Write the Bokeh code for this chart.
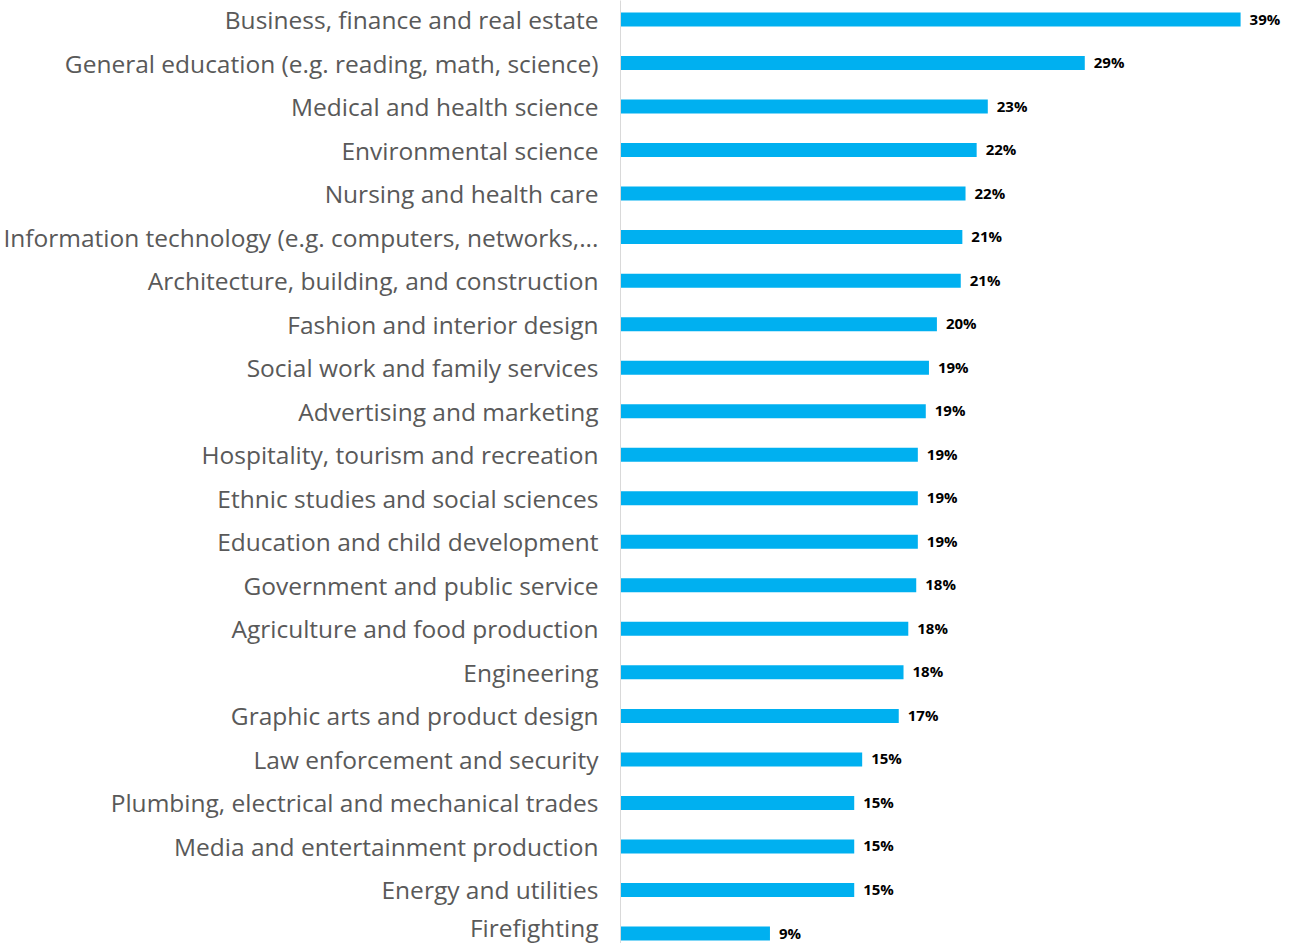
from bokeh.plotting import figure
from bokeh.models import Range1d, ColumnDataSource, FixedTicker, LabelSet
from bokeh.core.properties import value
from bokeh.embed import file_html
from bokeh.resources import INLINE

categories = [
    "Business, finance and real estate",
    "General education (e.g. reading, math, science)",
    "Medical and health science",
    "Environmental science",
    "Nursing and health care",
    "Information technology (e.g. computers, networks,...",
    "Architecture, building, and construction",
    "Fashion and interior design",
    "Social work and family services",
    "Advertising and marketing",
    "Hospitality, tourism and recreation",
    "Ethnic studies and social sciences",
    "Education and child development",
    "Government and public service",
    "Agriculture and food production",
    "Engineering",
    "Graphic arts and product design",
    "Law enforcement and security",
    "Plumbing, electrical and mechanical trades",
    "Media and entertainment production",
    "Energy and utilities",
    "Firefighting",
]
values = [39.0, 29.2, 23.1, 22.4, 21.7, 21.5, 21.4, 19.9, 19.4, 19.2, 18.7, 18.7,
          18.7, 18.6, 18.1, 17.8, 17.5, 15.2, 14.7, 14.7, 14.7, 9.4]
value_labels = ["39%", "29%", "23%", "22%", "22%", "21%", "21%", "20%", "19%", "19%",
                "19%", "19%", "19%", "18%", "18%", "18%", "17%", "15%", "15%", "15%",
                "15%", "9%"]

ypos = list(range(len(categories)))
src = ColumnDataSource(dict(y=ypos, v=values, lab=value_labels))

W, H = 1293, 943
LEFT = 620
PXU = 15.9
ROW = (933 - 19) / 21.0
p = figure(width=W, height=H, output_backend="svg", toolbar_location=None,
           x_range=Range1d(0, (W - LEFT) / PXU),
           y_range=Range1d(21 + (H - 933) / ROW, -19 / ROW),
           min_border_left=LEFT, min_border_right=0, min_border_top=0, min_border_bottom=0)
p.outline_line_color = None
p.grid.visible = False
p.xaxis.visible = False

p.hbar(y="y", right="v", left=0, height=14 / ROW, source=src, color="#00B0F0", line_color=None)

labels = LabelSet(x="v", y="y", text="lab", source=src, x_offset=9, y_offset=1,
                  text_baseline="middle", text_align="left", text_font=value("Open Sans"),
                  text_font_style="bold", text_font_size="15px", text_color="#000000")
p.add_layout(labels)

ax = p.yaxis[0]
ax.ticker = FixedTicker(ticks=ypos)
ax.major_label_overrides = {i: c for i, c in enumerate(categories)}
ax.major_tick_line_color = None
ax.minor_tick_line_color = None
ax.axis_line_color = "#D9D9D9"
ax.axis_line_width = 1
ax.major_label_standoff = 16
ax.major_label_text_font = "Open Sans"
ax.major_label_text_font_size = "24.5px"
ax.major_label_text_color = "#595959"

open("out.html", "w").write(file_html(p, INLINE))
